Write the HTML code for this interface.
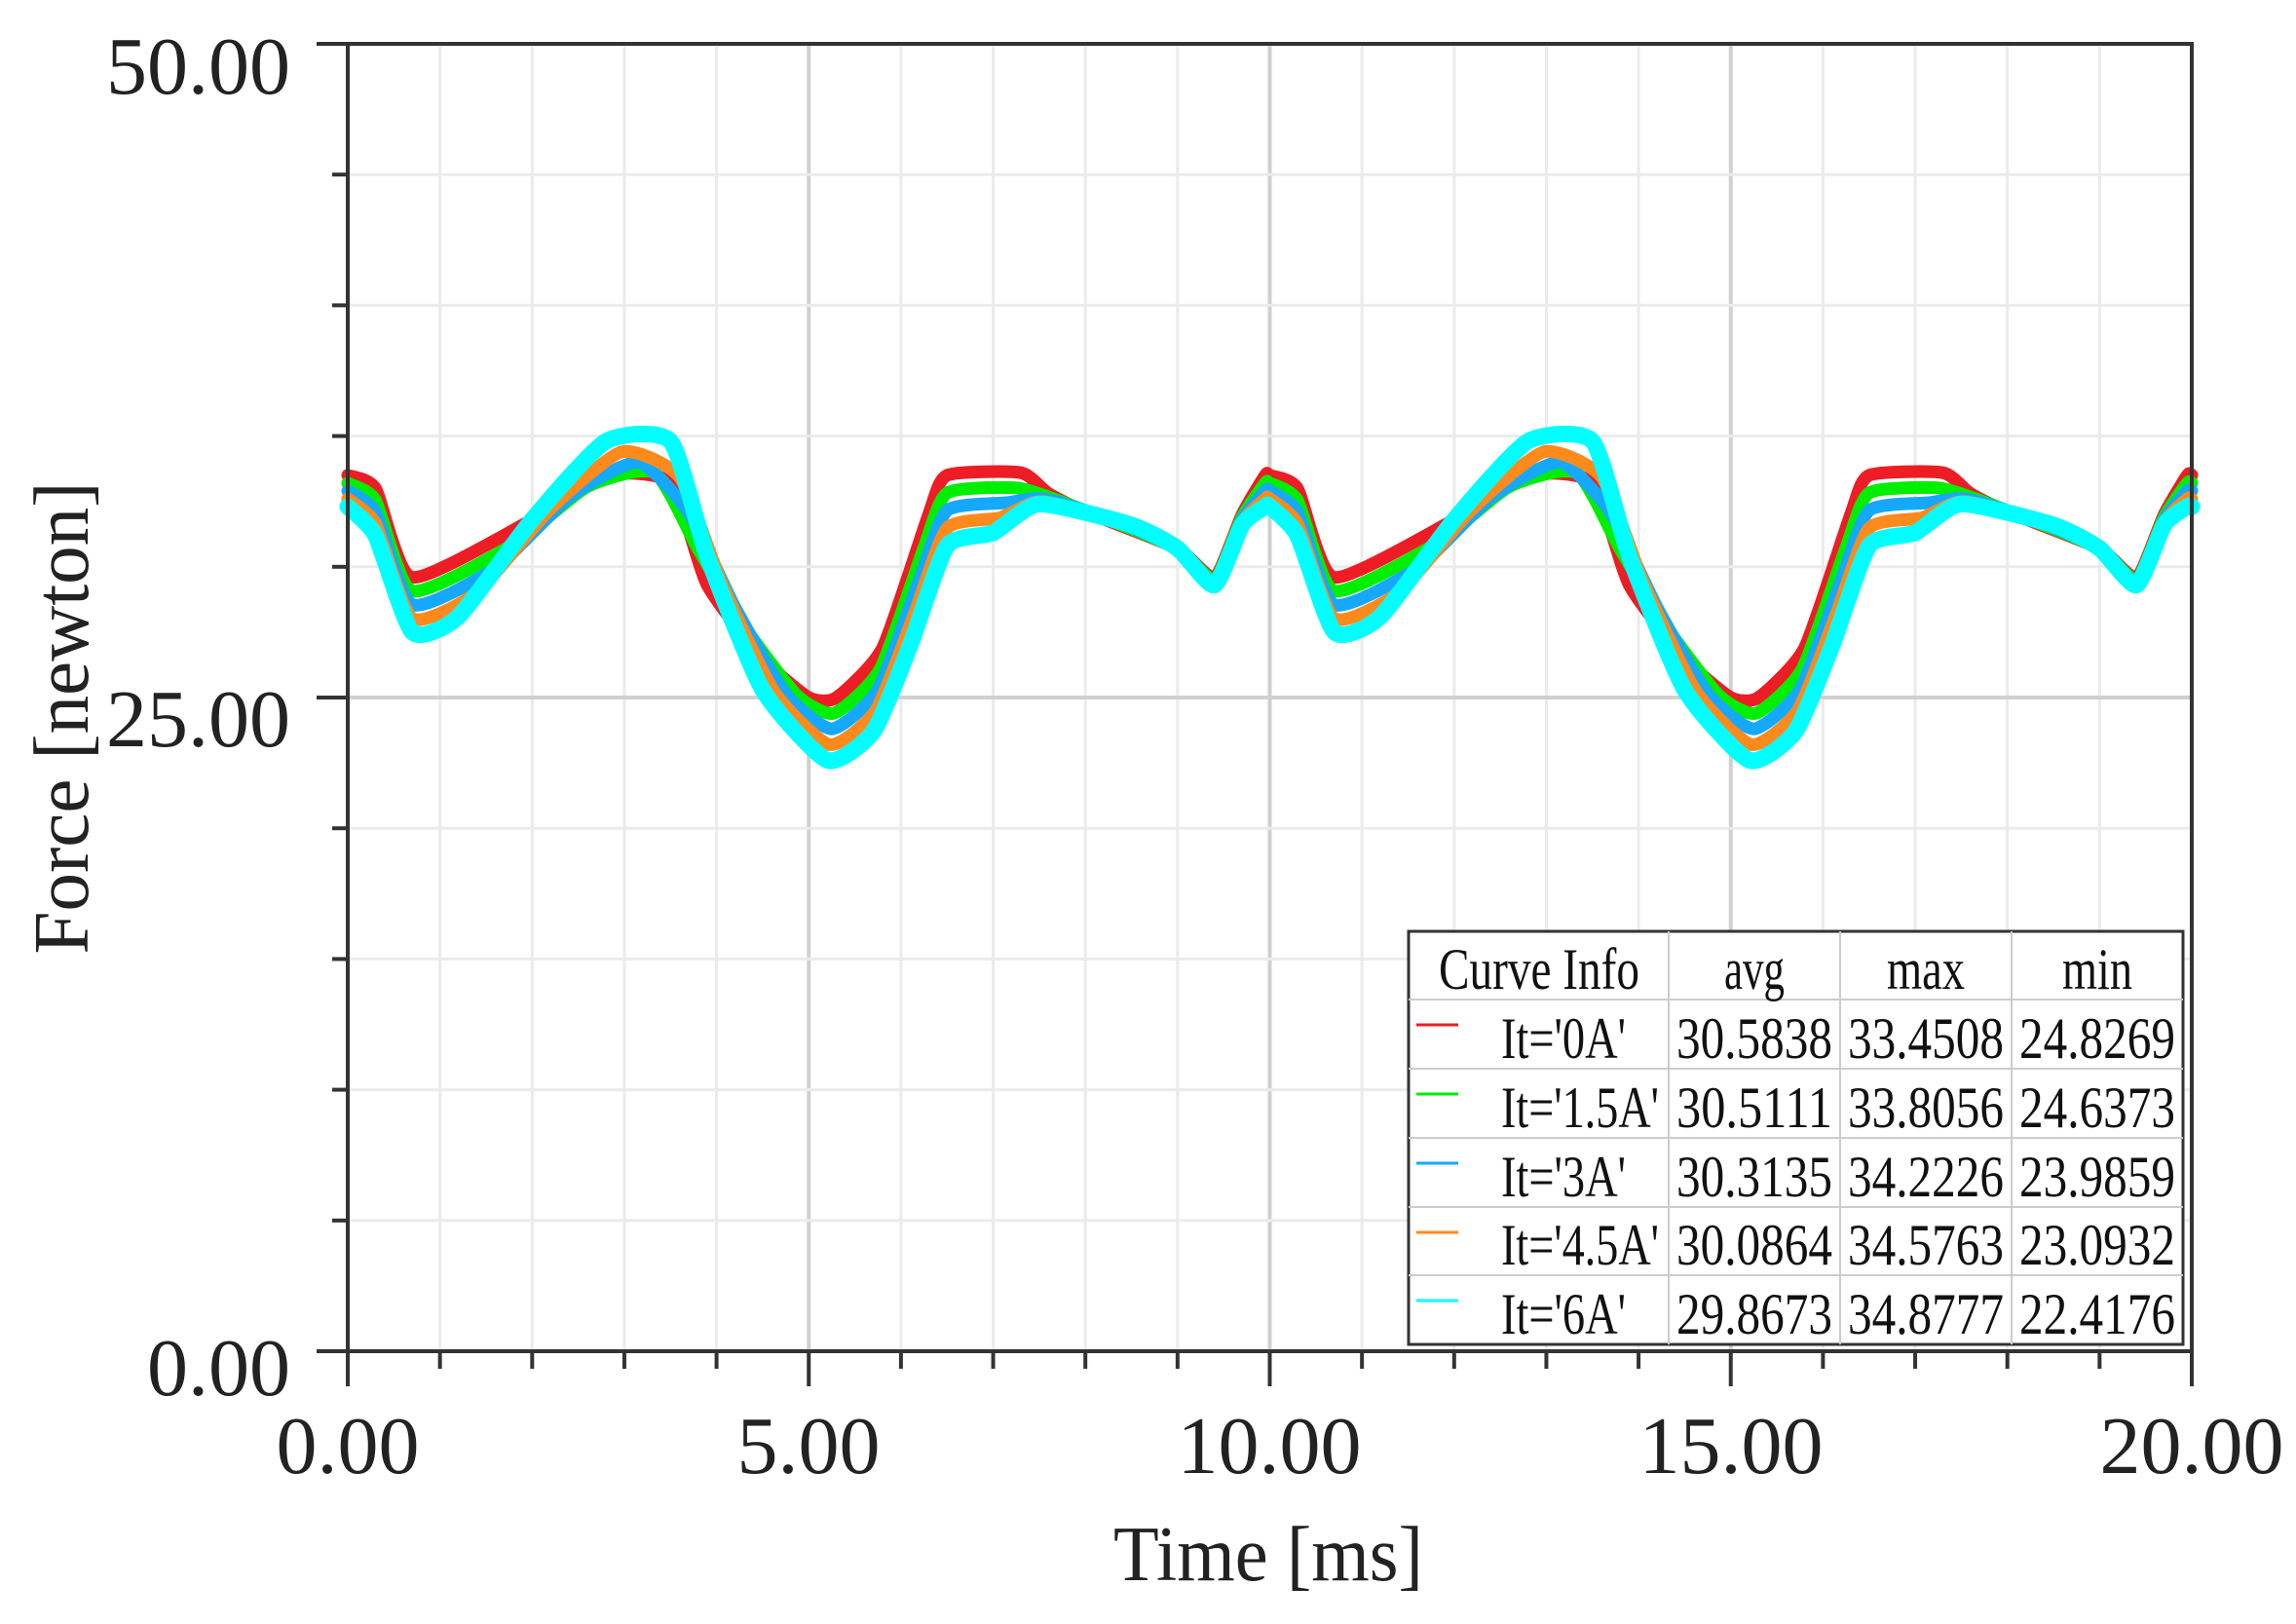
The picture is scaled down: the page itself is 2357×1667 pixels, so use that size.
<!DOCTYPE html>
<html><head><meta charset="utf-8">
<style>html,body{margin:0;padding:0;background:#fff;}svg{display:block;}</style>
</head><body>
<svg id="s" width="2357" height="1667" viewBox="0 0 2357 1667" xmlns="http://www.w3.org/2000/svg" font-family="'Liberation Serif', serif">
<rect width="2357" height="1667" fill="#fff"/>
<g id="grid"></g>
<g id="curves" fill="none" stroke-linejoin="round" stroke-linecap="round"></g>
<g id="axes"></g>
<g fill="#222" font-size="84">
<text x="298" y="96" text-anchor="end">50.00</text>
<text x="298" y="766" text-anchor="end">25.00</text>
<text x="298" y="1432" text-anchor="end">0.00</text>
<text x="357" y="1512" text-anchor="middle">0.00</text>
<text x="830" y="1512" text-anchor="middle">5.00</text>
<text x="1303" y="1512" text-anchor="middle">10.00</text>
<text x="1777" y="1512" text-anchor="middle">15.00</text>
<text x="2250" y="1512" text-anchor="middle">20.00</text>
</g>
<text x="1302" y="1622" text-anchor="middle" font-size="80" fill="#222" textLength="318" lengthAdjust="spacingAndGlyphs">Time [ms]</text>
<text transform="translate(90,737) rotate(-90)" text-anchor="middle" font-size="80" fill="#222" textLength="485" lengthAdjust="spacingAndGlyphs">Force [newton]</text>
<g id="legend"></g>
</svg>
<script>
var NS="http://www.w3.org/2000/svg";
function el(p,t,a){var e=document.createElementNS(NS,t);for(var k in a)e.setAttribute(k,a[k]);p.appendChild(e);return e;}
var X0=357,X1=2250,Y50=45,Y0=1387;
function X(t){return X0+(X1-X0)*t/20;}
function Y(f){return Y0-(Y0-Y50)*f/50;}
var g=document.getElementById('grid'),ax=document.getElementById('axes');
for(var i=1;i<20;i++){var maj=i%5==0;el(g,'line',{x1:X(i),x2:X(i),y1:Y50,y2:Y0,stroke:maj?'#d0d0d0':'#ebebeb','stroke-width':maj?4:3});}
for(var f=5;f<50;f+=5){var maj=f%25==0;el(g,'line',{x1:X0,x2:X1,y1:Y(f),y2:Y(f),stroke:maj?'#d0d0d0':'#ebebeb','stroke-width':maj?4:3});}
var red=[[0,33.5],[0.3,33],[0.7,29.6],[2.0,31.8],[2.8,33.5],[3.5,33.2],[3.9,29.3],[4.5,26.5],[5.0,25.0],[5.3,25.0],[5.8,26.9],[6.3,32],[6.5,33.5],[7.3,33.6],[7.6,32.8],[8.0,32.1],[9.0,30.7],[9.4,29.6],[9.7,32],[9.95,33.5]];
var cyan=[[0,32.3],[0.3,31.2],[0.7,27.5],[1.2,28.1],[2.0,31.8],[2.8,34.8],[3.5,34.8],[3.9,30.4],[4.5,25.3],[5.2,22.6],[5.7,23.7],[6.1,27],[6.5,30.8],[7.0,31.3],[7.5,32.4],[8.5,31.6],[9.0,30.7],[9.4,29.3],[9.7,31.6],[9.95,32.3]];
var cols=['#ee1c24','#00ee00','#15a8ff','#ff8a1c','#00ffff'];
var cg=document.getElementById('curves');
function smooth(P){var d='M'+P[0][0].toFixed(1)+','+P[0][1].toFixed(1);
 for(var i=0;i<P.length-1;i++){var p0=P[Math.max(0,i-1)],p1=P[i],p2=P[i+1],p3=P[Math.min(P.length-1,i+2)];var k=0.1;
  var c1=[p1[0]+(p2[0]-p0[0])*k,p1[1]+(p2[1]-p0[1])*k],c2=[p2[0]-(p3[0]-p1[0])*k,p2[1]-(p3[1]-p1[1])*k];
  d+=' C'+c1[0].toFixed(1)+','+c1[1].toFixed(1)+' '+c2[0].toFixed(1)+','+c2[1].toFixed(1)+' '+p2[0].toFixed(1)+','+p2[1].toFixed(1);}
 return d;}
for(var c=0;c<5;c++){
 var fr=c/4,pts=[];
 for(var p=0;p<2;p++)for(var j=0;j<red.length;j++){
  var t=red[j][0]*(1-fr)+cyan[j][0]*fr+p*10, v=red[j][1]*(1-fr)+cyan[j][1]*fr;
  pts.push([X(t),Y(v)]);
 }
 pts.push([X(20),Y(red[0][1]*(1-fr)+cyan[0][1]*fr)]);
 el(cg,'path',{d:smooth(pts),stroke:cols[c],'stroke-width':c==4?17:13});
}
el(ax,'rect',{x:X0,y:Y50,width:X1-X0,height:Y0-Y50,fill:'none',stroke:'#333','stroke-width':4});
for(var f=0;f<=50;f+=5){var maj=f%25==0;el(ax,'line',{x1:X0-(maj?32:16),x2:X0,y1:Y(f),y2:Y(f),stroke:'#333','stroke-width':4});}
for(var i=0;i<=20;i++){var maj=i%5==0;el(ax,'line',{x1:X(i),x2:X(i),y1:Y0,y2:Y0+(maj?36:18),stroke:'#333','stroke-width':4});}
var L=document.getElementById('legend');
var lx=1446,rx=2241,ty=956,by=1380;
el(L,'rect',{x:lx,y:ty,width:rx-lx,height:by-ty,fill:'#fff',stroke:'#333','stroke-width':3});
var cx=[1446,1713,1889,2065,2241];
for(var k=1;k<4;k++)el(L,'line',{x1:cx[k],x2:cx[k],y1:ty,y2:by,stroke:'#ccc','stroke-width':2});
var ry=[956,1026,1097,1168,1239,1309,1380];
for(var k=1;k<6;k++)el(L,'line',{x1:lx,x2:rx,y1:ry[k],y2:ry[k],stroke:'#ccc','stroke-width':2});
var rows=[["Curve Info","avg","max","min"],["It='0A'","30.5838","33.4508","24.8269"],["It='1.5A'","30.5111","33.8056","24.6373"],["It='3A'","30.3135","34.2226","23.9859"],["It='4.5A'","30.0864","34.5763","23.0932"],["It='6A'","29.8673","34.8777","22.4176"]];
var lw={"Curve Info":206,"avg":62,"max":80,"min":72,"It='0A'":128,"It='1.5A'":162,"It='3A'":128,"It='4.5A'":162,"It='6A'":128};
for(var r=0;r<6;r++){
 var base=ry[r+1]-11;
 for(var k=0;k<4;k++){
  var a={y:base,'font-size':60,fill:'#111',lengthAdjust:'spacingAndGlyphs'};
  if(k==0&&r>0){a.x=1541;a.textLength=lw[rows[r][0]];}
  else{a.x=(cx[k]+cx[k+1])/2;a['text-anchor']='middle';if(r==0&&k==0)a.x=1580;a.textLength=lw[rows[r][k]]||160;}
  var tx=el(L,'text',a);tx.textContent=rows[r][k];
 }
 if(r>0)el(L,'line',{x1:1454,x2:1497,y1:ry[r]+26,y2:ry[r]+26,stroke:cols[r-1],'stroke-width':3});
}
</script>
</body></html>
